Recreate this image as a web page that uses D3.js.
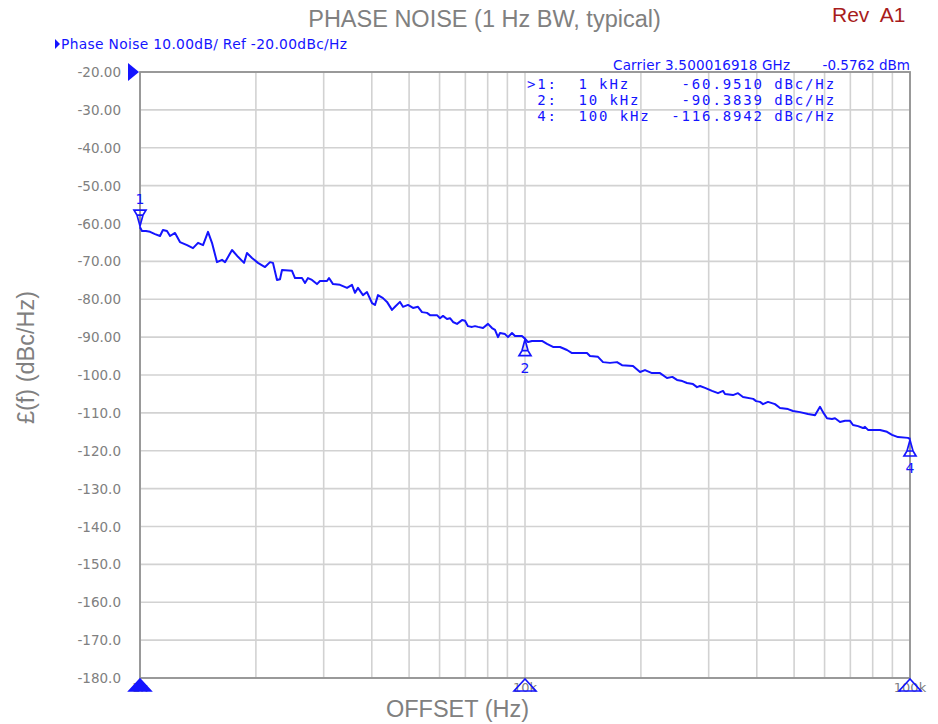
<!DOCTYPE html>
<html>
<head>
<meta charset="utf-8">
<script src="https://cdnjs.cloudflare.com/ajax/libs/d3/7.8.5/d3.min.js"></script>
<style>
  body { margin: 0; background: #fff; }
</style>
</head>
<body>
<div id="chart"></div>
<script>
// phase noise trace (offset in Hz, level in dBc/Hz)
var offsetHz = [1000, 1012, 1036, 1062, 1094, 1127, 1147, 1175, 1197, 1233,
  1270, 1325, 1373, 1415, 1458, 1502, 1538, 1585, 1633, 1663,
  1734, 1797, 1863, 1896, 1954, 2025, 2112, 2176, 2215, 2269,
  2310, 2338, 2482, 2527, 2635, 2683, 2731, 2797, 2882, 2934,
  3060, 3097, 3172, 3307, 3449, 3553, 3618, 3683, 3795, 3887,
  4005, 4077, 4151, 4277, 4381, 4514, 4596, 4735, 4821, 4967,
  5118, 5273, 5401, 5565, 5666, 5908, 6015, 6124, 6272, 6386,
  6501, 6659, 6861, 6985, 7111, 7284, 7415, 7550, 7779, 8015,
  8209, 8358, 8509, 8611, 8873, 9033, 9252, 9420, 9822, 10000,
  10181, 10428, 11070, 11407, 11823, 12328, 12856, 13246, 13730, 14488,
  14751, 15474, 15944, 16626, 17337, 17863, 19078, 19894, 20497, 21373,
  22421, 23379, 24138, 24820, 25625, 26350, 27313, 27974, 28481, 29345,
  30600, 31718, 32681, 33074, 34694, 35747, 36833, 39139, 39848, 40775,
  41513, 42773, 44603, 45956, 48208, 49672, 51794, 54332, 56657, 58374,
  59430, 60869, 62720, 63855, 65795, 67793, 69849, 71114, 73275, 75497,
  76406, 77789, 83577, 87152, 89797, 93078, 98808, 100000];
var noiseDbc = [-61.0, -62.0, -62.0, -62.2, -62.8, -63.3, -61.7, -62.0, -63.3, -62.5,
  -64.9, -65.7, -66.5, -65.1, -65.7, -62.2, -65.1, -70.2, -69.6, -70.2,
  -67.0, -68.8, -70.4, -67.8, -69.1, -70.4, -71.5, -70.2, -70.4, -74.9,
  -74.7, -72.3, -72.5, -74.4, -74.4, -75.7, -74.4, -74.9, -76.0, -75.2,
  -75.2, -74.4, -76.0, -76.2, -77.0, -76.2, -78.3, -77.0, -78.9, -78.1,
  -81.0, -81.5, -78.9, -79.7, -80.7, -82.8, -82.0, -80.7, -82.0, -81.5,
  -82.3, -82.0, -83.4, -83.6, -84.2, -84.2, -85.0, -84.4, -85.2, -85.0,
  -86.0, -86.5, -85.5, -85.7, -87.1, -87.3, -87.1, -87.3, -87.6, -86.5,
  -87.6, -88.1, -90.0, -88.9, -89.2, -90.0, -88.9, -89.7, -89.7, -90.4,
  -91.3, -91.0, -91.0, -91.8, -92.6, -92.6, -93.4, -94.2, -94.2, -94.2,
  -95.0, -95.2, -96.6, -96.8, -96.6, -97.4, -97.6, -99.2, -98.7, -99.5,
  -99.5, -100.8, -100.5, -101.3, -101.6, -102.1, -102.4, -103.2, -102.9, -103.4,
  -104.2, -104.8, -104.2, -105.0, -105.3, -104.8, -105.8, -106.3, -106.9, -107.1,
  -107.7, -107.1, -107.7, -108.7, -109.0, -109.5, -109.8, -110.3, -110.6, -108.4,
  -109.8, -111.4, -111.6, -111.4, -112.4, -112.1, -112.1, -113.2, -113.5, -114.0,
  -113.7, -114.5, -114.5, -115.0, -115.8, -116.4, -116.6, -116.9];

// markers
var markerIds = ["1", "2", "4"];
var markerHz = [1000, 10000, 100000];
var markerDbc = [-60.9510, -90.3839, -116.8942];
var markerRows = [">1:  1 kHz     -60.9510 dBc/Hz",
                  " 2:  10 kHz    -90.3839 dBc/Hz",
                  " 4:  100 kHz  -116.8942 dBc/Hz"];

// axis
var yTicks = d3.range(-20, -181, -10);
var xLabelHz = [1000, 10000, 100000];
var xLabelText = ["1k", "10k", "100k"];

// layout
var W = 938, H = 724;
var LEFT = 140, RIGHT = 910, TOP = 72, BOTTOM = 678;
var BLUE = "#1414ff";
var GREY = "#808080";

var x = d3.scaleLog().domain([1000, 100000]).range([LEFT, RIGHT]);
var y = d3.scaleLinear().domain([-180, -20]).range([BOTTOM, TOP]);

var svg = d3.select("#chart").append("svg")
  .attr("width", W)
  .attr("height", H)
  .style("font-family", "'DejaVu Sans', sans-serif");

// grid
svg.append("g").selectAll("line")
  .data(x.ticks())
  .join("line")
  .attr("x1", function(d){ return x(d); })
  .attr("x2", function(d){ return x(d); })
  .attr("y1", TOP)
  .attr("y2", BOTTOM)
  .style("stroke", "#d2d2d2")
  .style("stroke-width", 1.6);

svg.append("g").selectAll("line")
  .data(yTicks)
  .join("line")
  .attr("x1", LEFT)
  .attr("x2", RIGHT)
  .attr("y1", function(d){ return y(d); })
  .attr("y2", function(d){ return y(d); })
  .style("stroke", "#d2d2d2")
  .style("stroke-width", 1.6);

// frame
svg.append("rect")
  .attr("x", LEFT)
  .attr("y", TOP)
  .attr("width", RIGHT - LEFT)
  .attr("height", BOTTOM - TOP)
  .style("fill", "none")
  .style("stroke", "#929292")
  .style("stroke-width", 1.8);

// y tick labels
svg.append("g").selectAll("text")
  .data(yTicks)
  .join("text")
  .attr("x", 121)
  .attr("y", function(d){ return y(d) + 5; })
  .attr("text-anchor", "end")
  .attr("fill", GREY)
  .attr("font-size", "13.5px")
  .text(function(d){ return d > -100 ? d.toFixed(2) : d.toFixed(1); });

// x labels (partly hidden under the marker flags)
svg.append("g").selectAll("text")
  .data(xLabelHz)
  .join("text")
  .attr("x", function(d){ return x(d); })
  .attr("y", 692)
  .attr("text-anchor", "middle")
  .attr("fill", GREY)
  .attr("font-size", "13px")
  .text(function(d, i){ return xLabelText[i]; });

// trace
var line = d3.line()
  .x(function(i){ return x(offsetHz[i]); })
  .y(function(i){ return y(noiseDbc[i]); });

svg.append("path")
  .datum(d3.range(offsetHz.length))
  .attr("d", line)
  .style("fill", "none")
  .style("stroke", BLUE)
  .style("stroke-width", 2)
  .style("stroke-linejoin", "round");

// markers on the trace
markerHz.forEach(function(f, i){
  var mx = x(f), my = y(markerDbc[i]);
  var s = i == 0 ? -1 : 1;   // active marker sits above the trace
  var p = "M" + mx + "," + (my + s*1)
    + "L" + (mx - 3) + "," + (my + s*12)
    + "L" + (mx - 6) + "," + (my + s*17)
    + "L" + (mx + 6) + "," + (my + s*17)
    + "L" + (mx + 3) + "," + (my + s*12) + "Z"
    + "M" + (mx - 3) + "," + (my + s*12) + "L" + (mx + 3) + "," + (my + s*12);
  svg.append("path")
    .attr("d", p)
    .style("fill", "none")
    .style("stroke", BLUE)
    .style("stroke-width", 1.7);
  svg.append("text")
    .attr("x", mx)
    .attr("y", i == 0 ? my - 23 : my + 34)
    .attr("text-anchor", "middle")
    .attr("fill", BLUE)
    .attr("font-size", "14px")
    .text(markerIds[i]);
  // flag on the x axis
  svg.append("path")
    .attr("d", "M" + (mx - 11) + ",691L" + (mx + 11) + ",691L" + mx + ",679Z")
    .style("fill", i == 0 ? BLUE : "none")
    .style("stroke", BLUE)
    .style("stroke-width", 1.6);
});

// reference level arrow
svg.append("path")
  .attr("d", "M128," + (y(-20) - 9) + "L128," + (y(-20) + 9) + "L139," + y(-20) + "Z")
  .style("fill", BLUE);

// header
svg.append("path")
  .attr("d", "M55,39L55,49L60,44Z")
  .style("fill", BLUE);
svg.append("text")
  .attr("x", 61)
  .attr("y", 49)
  .attr("fill", BLUE)
  .attr("font-size", "13.8px")
  .attr("textLength", 286)
  .text("Phase Noise 10.00dB/ Ref -20.00dBc/Hz");

svg.append("text")
  .attr("x", 613)
  .attr("y", 70)
  .attr("fill", BLUE)
  .attr("font-size", "13.5px")
  .attr("textLength", 177)
  .text("Carrier 3.500016918 GHz");
svg.append("text")
  .attr("x", 910)
  .attr("y", 70)
  .attr("text-anchor", "end")
  .attr("fill", BLUE)
  .attr("font-size", "13.5px")
  .text("-0.5762 dBm");

// marker table
svg.append("g").selectAll("text")
  .data(markerRows)
  .join("text")
  .attr("x", 527)
  .attr("y", function(d, i){ return 89 + i*16; })
  .attr("fill", BLUE)
  .attr("font-family", "'DejaVu Sans Mono', monospace")
  .attr("font-size", "14px")
  .style("letter-spacing", "1.87px")
  .style("white-space", "pre")
  .text(function(d){ return d; });

// titles
svg.append("text")
  .attr("x", 484.5)
  .attr("y", 27)
  .attr("text-anchor", "middle")
  .attr("fill", GREY)
  .attr("font-family", "'Liberation Sans', Arial, sans-serif")
  .attr("font-size", "23.5px")
  .text("PHASE NOISE (1 Hz BW, typical)");

svg.append("text")
  .attr("x", 832)
  .attr("y", 22)
  .attr("fill", "#a81c1c")
  .attr("font-family", "'Liberation Sans', Arial, sans-serif")
  .attr("font-size", "21px")
  .style("white-space", "pre")
  .text("Rev  A1");

svg.append("text")
  .attr("x", 457.5)
  .attr("y", 717)
  .attr("text-anchor", "middle")
  .attr("fill", GREY)
  .attr("font-family", "'Liberation Sans', Arial, sans-serif")
  .attr("font-size", "23.5px")
  .text("OFFSET (Hz)");

svg.append("text")
  .attr("transform", "translate(33.5,357.5) rotate(-90)")
  .attr("text-anchor", "middle")
  .attr("fill", GREY)
  .attr("font-family", "'Liberation Sans', Arial, sans-serif")
  .attr("font-size", "23.5px")
  .text("£(f) (dBc/Hz)");
</script>
</body>
</html>
